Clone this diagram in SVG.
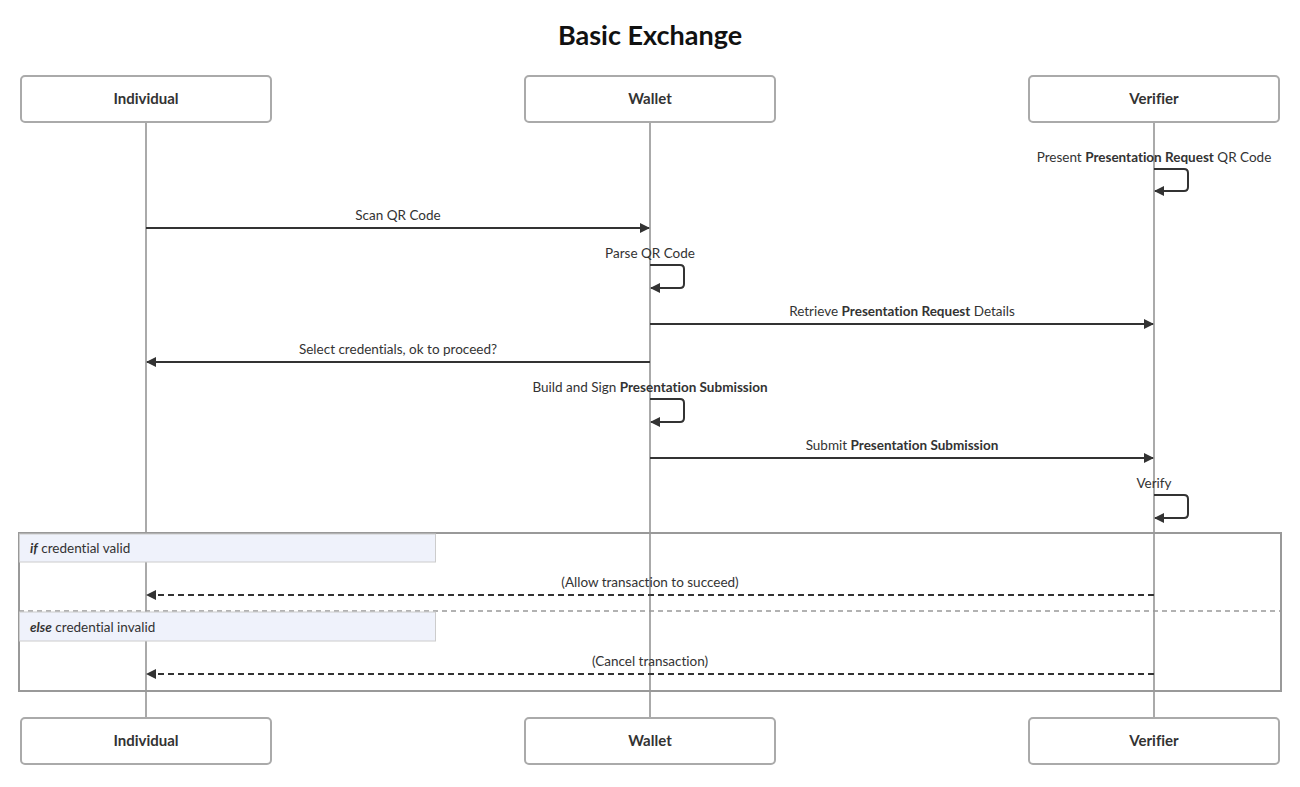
<svg xmlns="http://www.w3.org/2000/svg" width="1300" height="787" viewBox="0 0 1300 787">
<style>
text{font-family:"Source Sans Pro","Lato","Liberation Sans",sans-serif;fill:#333;font-variant-ligatures:none}
.title{font-size:27px;font-weight:bold;fill:#111;text-anchor:middle}
.actor rect{fill:#fff;stroke:#aaa;stroke-width:2}
.actor text{font-size:15px;font-weight:bold;text-anchor:middle;fill:#333}
.life{stroke:#aaa;stroke-width:2}
.msg{stroke:#333;stroke-width:2;fill:none}
.dash{stroke-dasharray:6,4}
.lbl{font-size:13.5px;text-anchor:middle}
.frame{fill:none;stroke:#999;stroke-width:2}
.sep{stroke:#999;stroke-width:1.5;stroke-dasharray:5,4}
.cond rect{fill:#eff2fb;stroke:#ccc;stroke-width:1}
.cond text{font-size:13.5px}
</style>
<defs>
<marker id="ah" viewBox="0 0 10 10" refX="9" refY="5" markerWidth="10" markerHeight="10" markerUnits="userSpaceOnUse" orient="auto">
<path d="M0,0 L10,5 L0,10 z" fill="#333"/>
</marker>
</defs>
<text class="title" x="650" y="45">Basic Exchange</text>
<g id="lifelines">
<line class="life" x1="146" y1="122" x2="146" y2="718"/>
<line class="life" x1="650" y1="122" x2="650" y2="718"/>
<line class="life" x1="1154" y1="122" x2="1154" y2="718"/>
</g>
<g id="alt">
<rect class="frame" x="19" y="533" width="1262" height="158"/>
<line class="sep" x1="19" y1="611" x2="1281" y2="611"/>
<g class="cond"><rect x="19.5" y="534" width="416" height="28"/><text x="30" y="553"><tspan font-weight="bold" font-style="italic">if</tspan> credential valid</text></g>
<g class="cond"><rect x="19.5" y="612" width="416" height="29"/><text x="30" y="632"><tspan font-weight="bold" font-style="italic">else</tspan> credential invalid</text></g>
</g>
<g id="node-individual" class="actor"><rect x="21" y="76" width="250" height="46" rx="4"/><text x="146" y="104">Individual</text></g>
<g id="node-wallet" class="actor"><rect x="525" y="76" width="250" height="46" rx="4"/><text x="650" y="104">Wallet</text></g>
<g id="node-verifier" class="actor"><rect x="1029" y="76" width="250" height="46" rx="4"/><text x="1154" y="104">Verifier</text></g>
<g id="node-individual-bottom" class="actor"><rect x="21" y="718" width="250" height="46" rx="4"/><text x="146" y="746">Individual</text></g>
<g id="node-wallet-bottom" class="actor"><rect x="525" y="718" width="250" height="46" rx="4"/><text x="650" y="746">Wallet</text></g>
<g id="node-verifier-bottom" class="actor"><rect x="1029" y="718" width="250" height="46" rx="4"/><text x="1154" y="746">Verifier</text></g>
<g id="connectors">
<path class="msg" d="M1154,169 H1184 Q1188,169 1188,173 V187 Q1188,191 1184,191 H1155" marker-end="url(#ah)"/>
<line class="msg" x1="146" y1="228" x2="649" y2="228" marker-end="url(#ah)"/>
<path class="msg" d="M650,265 H680 Q684,265 684,269 V284 Q684,288 680,288 H651" marker-end="url(#ah)"/>
<line class="msg" x1="650" y1="324" x2="1153" y2="324" marker-end="url(#ah)"/>
<line class="msg" x1="650" y1="362" x2="147" y2="362" marker-end="url(#ah)"/>
<path class="msg" d="M650,399 H680 Q684,399 684,403 V418 Q684,422 680,422 H651" marker-end="url(#ah)"/>
<line class="msg" x1="650" y1="458" x2="1153" y2="458" marker-end="url(#ah)"/>
<path class="msg" d="M1154,495 H1184 Q1188,495 1188,499 V514 Q1188,518 1184,518 H1155" marker-end="url(#ah)"/>
<line class="msg dash" x1="1154" y1="595" x2="147" y2="595" marker-end="url(#ah)"/>
<line class="msg dash" x1="1154" y1="674" x2="147" y2="674" marker-end="url(#ah)"/>
</g>
<g id="labels">
<text class="lbl" x="1154" y="162">Present <tspan font-weight="bold">Presentation Request</tspan> QR Code</text>
<text class="lbl" x="398" y="220">Scan QR Code</text>
<text class="lbl" x="650" y="258">Parse QR Code</text>
<text class="lbl" x="902" y="316">Retrieve <tspan font-weight="bold">Presentation Request</tspan> Details</text>
<text class="lbl" x="398" y="354">Select credentials, ok to proceed?</text>
<text class="lbl" x="650" y="392">Build and Sign <tspan font-weight="bold">Presentation Submission</tspan></text>
<text class="lbl" x="902" y="450">Submit <tspan font-weight="bold">Presentation Submission</tspan></text>
<text class="lbl" x="1154" y="488">Verify</text>
<text class="lbl" x="650" y="587">(Allow transaction to succeed)</text>
<text class="lbl" x="650" y="666">(Cancel transaction)</text>
</g>
</svg>
